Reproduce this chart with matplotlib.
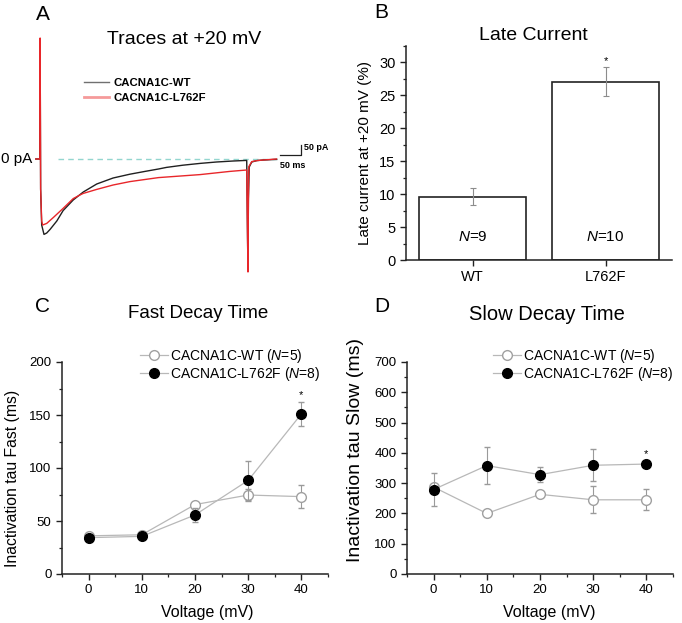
import matplotlib
matplotlib.use("Agg")
import matplotlib.pyplot as plt
from matplotlib.ticker import MultipleLocator
from matplotlib.lines import Line2D

plt.rcParams['font.family'] = ['Liberation Sans', 'DejaVu Sans']
plt.rcParams['mathtext.fontset'] = 'custom'
plt.rcParams['mathtext.it'] = 'Liberation Sans:italic'
plt.rcParams['mathtext.rm'] = 'Liberation Sans'

# ---------------- data ----------------
# Panel A: current traces at +20 mV (time in ms, current in pA)
wt_t = [-10, 0, 0.3, 1.5, 4, 9.5, 16, 24, 40, 55, 79, 103, 135, 174, 214, 250, 282,
        301, 340, 381, 420, 460, 492, 494, 495, 496, 498, 504, 516, 531, 563]
wt_i = [0, 0, 600, -150, -330, -377, -370, -352, -310, -258, -205, -165, -125, -95, -76,
        -62, -50, -42, -31, -22, -15, -10, -7, -400, -560, -200, -40, -15, -8, -5, -2]
mut_t = [-10, 0, 0.3, 1.5, 4, 6.3, 16, 32, 55, 79, 95, 103, 135, 174, 214, 282, 381,
         452, 492, 494, 495, 496, 497, 504, 516, 531, 563]
mut_i = [0, 0, 605, -150, -310, -330, -322, -292, -247, -198, -180, -172, -152, -130,
         -113, -93, -78, -62, -55, -400, -565, -200, -38, -13, -8, -5, 0]
scale_ms = 50
scale_pa = 50

# Panel B: late current
late_groups = ['WT', 'L762F']
late_mean = [9.6, 27.1]
late_sem = [1.3, 2.25]
late_n = [9, 10]

# Panels C, D
voltage = [0, 10, 20, 30, 40]
fast_wt = [36, 37, 65.5, 74.5, 73]
fast_wt_sem = [2, 1.5, 2.5, 5.5, 10.5]
fast_mut = [34.3, 35.5, 55.7, 88.3, 151]
fast_mut_sem = [1.5, 1.5, 6.5, 18.5, 11.5]
slow_wt = [287, 200, 263, 245, 245]
slow_wt_sem = [10, 6, 8, 45, 35]
slow_mut = [279, 358, 328, 359, 363]
slow_mut_sem = [55, 61, 24, 53, 8]
series_labels = [r'CACNA1C-WT ($N$=5)', r'CACNA1C-L762F ($N$=8)']

W, H = 682, 623
fig = plt.figure(figsize=(W / 100, H / 100), dpi=100)


def px(x, y):
    return x / W, 1 - y / H


def rect(l, t, r, b):
    return [l / W, 1 - b / H, (r - l) / W, (b - t) / H]


def ftext(x, y, s, **kw):
    fx, fy = px(x, y)
    fig.text(fx, fy, s, **kw)


# ---------------- Panel A ----------------
axA = fig.add_axes(rect(0, 0, 340, 290))
axA.axis('off')
axA.set_xlim((0 - 40) * 2.38, (340 - 40) * 2.38)
axA.set_ylim((159 - 290) * 5, (159 - 0) * 5)
axA.plot([42, 563], [0, 0], ls=(0, (4, 3)), color='#93d6cf', lw=1.0, zorder=1)
axA.plot(wt_t, wt_i, color='#202020', lw=1.0, zorder=2)
axA.plot(mut_t, mut_i, color='#e8262a', lw=1.0, zorder=3)
# scale bar
sb_t, sb_i = 571, 22
axA.plot([sb_t, sb_t + scale_ms, sb_t + scale_ms], [sb_i, sb_i, sb_i + scale_pa],
         color='#202020', lw=0.9)
ftext(304, 148, '50 pA', fontsize=6.5, fontweight='bold', ha='left', va='center')
ftext(280, 166, '50 ms', fontsize=6.5, fontweight='bold', ha='left', va='center')
ftext(32, 159, '0 pA', fontsize=11, ha='right', va='center')
axA.legend([Line2D([], [], color='#707070', lw=1.0),
            Line2D([], [], color='#f59a9a', lw=2.0)],
           ['CACNA1C-WT', 'CACNA1C-L762F'],
           prop={'size': 8.2, 'weight': 'bold'}, frameon=False,
           loc='upper left', bbox_to_anchor=(78 / 340, 1 - 72 / 290),
           handlelength=2.2, handletextpad=0.4, borderpad=0, labelspacing=0.45)
ftext(43, 14, 'A', fontsize=15, ha='center', va='center')
ftext(184, 40, 'Traces at +20 mV', fontsize=14, ha='center', va='center')


def style(ax):
    for s in ['top', 'right']:
        ax.spines[s].set_visible(False)
    for s in ['left', 'bottom']:
        ax.spines[s].set_linewidth(1.1)
        ax.spines[s].set_color('#222222')
    ax.tick_params(which='major', direction='out', length=4, width=1, color='#222222')
    ax.tick_params(which='minor', direction='out', length=2.5, width=0.9, color='#222222')


# ---------------- Panel B ----------------
axB = fig.add_axes(rect(406, 46, 672, 260))
style(axB)
xb = [1, 2]
axB.bar(xb, late_mean, width=0.8, color='white', edgecolor='#222222', linewidth=1.2, zorder=2)
axB.errorbar(xb, late_mean, yerr=late_sem, fmt='none', ecolor='#8c8c8c',
             elinewidth=0.8, capsize=2.5, capthick=0.8, zorder=3)
axB.set_xlim(0.5, 2.5)
axB.set_ylim(0, 32.5)
axB.set_xticks(xb)
axB.set_xticklabels(late_groups, fontsize=10.5)
axB.yaxis.set_major_locator(MultipleLocator(5))
axB.yaxis.set_minor_locator(MultipleLocator(2.5))
axB.tick_params(axis='both', labelsize=10.5)
for x, n in zip(xb, late_n):
    axB.text(x, 3.5, r'$N$=%d' % n, ha='center', va='center', fontsize=11)
axB.text(2, 29.4, '*', ha='center', va='bottom', fontsize=8)
axB.set_ylabel('Late current at +20 mV (%)', fontsize=11)
axB.yaxis.set_label_coords(-0.128, 0.5)
ftext(381, 13, 'B', fontsize=15, ha='center', va='center')
ftext(533, 36, 'Late Current', fontsize=14, ha='center', va='center')

LINE_C = '#b8b8b8'
ERR_C = '#9a9a9a'


def decay_panel(ax, wt, wt_sem, mut, mut_sem, ylim, ymaj, ymin, ylabel, star_y):
    style(ax)
    ax.errorbar(voltage, wt, yerr=wt_sem, fmt='-o', color=LINE_C, lw=0.9,
                ms=7, mfc='white', mec='#a0a0a0', mew=1.0,
                ecolor=ERR_C, elinewidth=0.8, capsize=2, capthick=0.8, zorder=3)
    ax.errorbar(voltage, mut, yerr=mut_sem, fmt='-o', color=LINE_C, lw=0.9,
                ms=7, mfc='black', mec='black', mew=1.0,
                ecolor=ERR_C, elinewidth=0.8, capsize=2, capthick=0.8, zorder=4)
    ax.set_xlim(-5, 45)
    ax.set_ylim(*ylim)
    ax.xaxis.set_major_locator(MultipleLocator(10))
    ax.xaxis.set_minor_locator(MultipleLocator(5))
    ax.yaxis.set_major_locator(MultipleLocator(ymaj))
    ax.yaxis.set_minor_locator(MultipleLocator(ymin))
    ax.tick_params(axis='both', labelsize=9.5)
    ax.text(40, star_y, '*', ha='center', va='bottom', fontsize=8)
    ax.set_ylabel(ylabel, fontsize=11.3)
    ax.set_xlabel('Voltage (mV)', fontsize=11.5)
    handles = [Line2D([], [], color=LINE_C, lw=0.9, marker='o', ms=7, mfc='white',
                      mec='#a0a0a0', mew=1.0),
               Line2D([], [], color=LINE_C, lw=0.9, marker='o', ms=7, mfc='black',
                      mec='black', mew=1.0)]
    return handles


LEG_KW = dict(loc='upper left', frameon=False, fontsize=10, handlelength=2.0,
              handletextpad=0.15, borderpad=0, labelspacing=0.0)

# ---------------- Panel C ----------------
axC = fig.add_axes(rect(62, 362, 328, 574))
hC = decay_panel(axC, fast_wt, fast_wt_sem, fast_mut, fast_mut_sem, (0, 200), 50, 25,
                 'Inactivation tau Fast (ms)', 164)
axC.legend(hC, series_labels, bbox_to_anchor=((133 - 62) / 266, (574 - 340) / 212), **LEG_KW)
axC.yaxis.set_label_coords(-0.158, 0.45)
axC.xaxis.set_label_coords((207 - 62) / 266, -(605 - 574) / 212)
ftext(43, 306, 'C', fontsize=15, ha='center', va='center')
ftext(198, 314, 'Fast Decay Time', fontsize=13.5, ha='center', va='center')

# ---------------- Panel D ----------------
axD = fig.add_axes(rect(407, 362, 673, 574))
hD = decay_panel(axD, slow_wt, slow_wt_sem, slow_mut, slow_mut_sem, (0, 700), 100, 50,
                 'Inactivation tau Slow (ms)', 380)
axD.legend(hD, series_labels, bbox_to_anchor=((486 - 407) / 266, (574 - 340) / 212), **LEG_KW)
axD.yaxis.label.set_fontsize(14)
axD.yaxis.set_label_coords(-0.16, 0.585)
axD.xaxis.set_label_coords((549 - 407) / 266, -(605 - 574) / 212)
ftext(382, 306, 'D', fontsize=15, ha='center', va='center')
ftext(547, 314, 'Slow Decay Time', fontsize=14.5, ha='center', va='center')

fig.savefig('out.png', dpi=100)
